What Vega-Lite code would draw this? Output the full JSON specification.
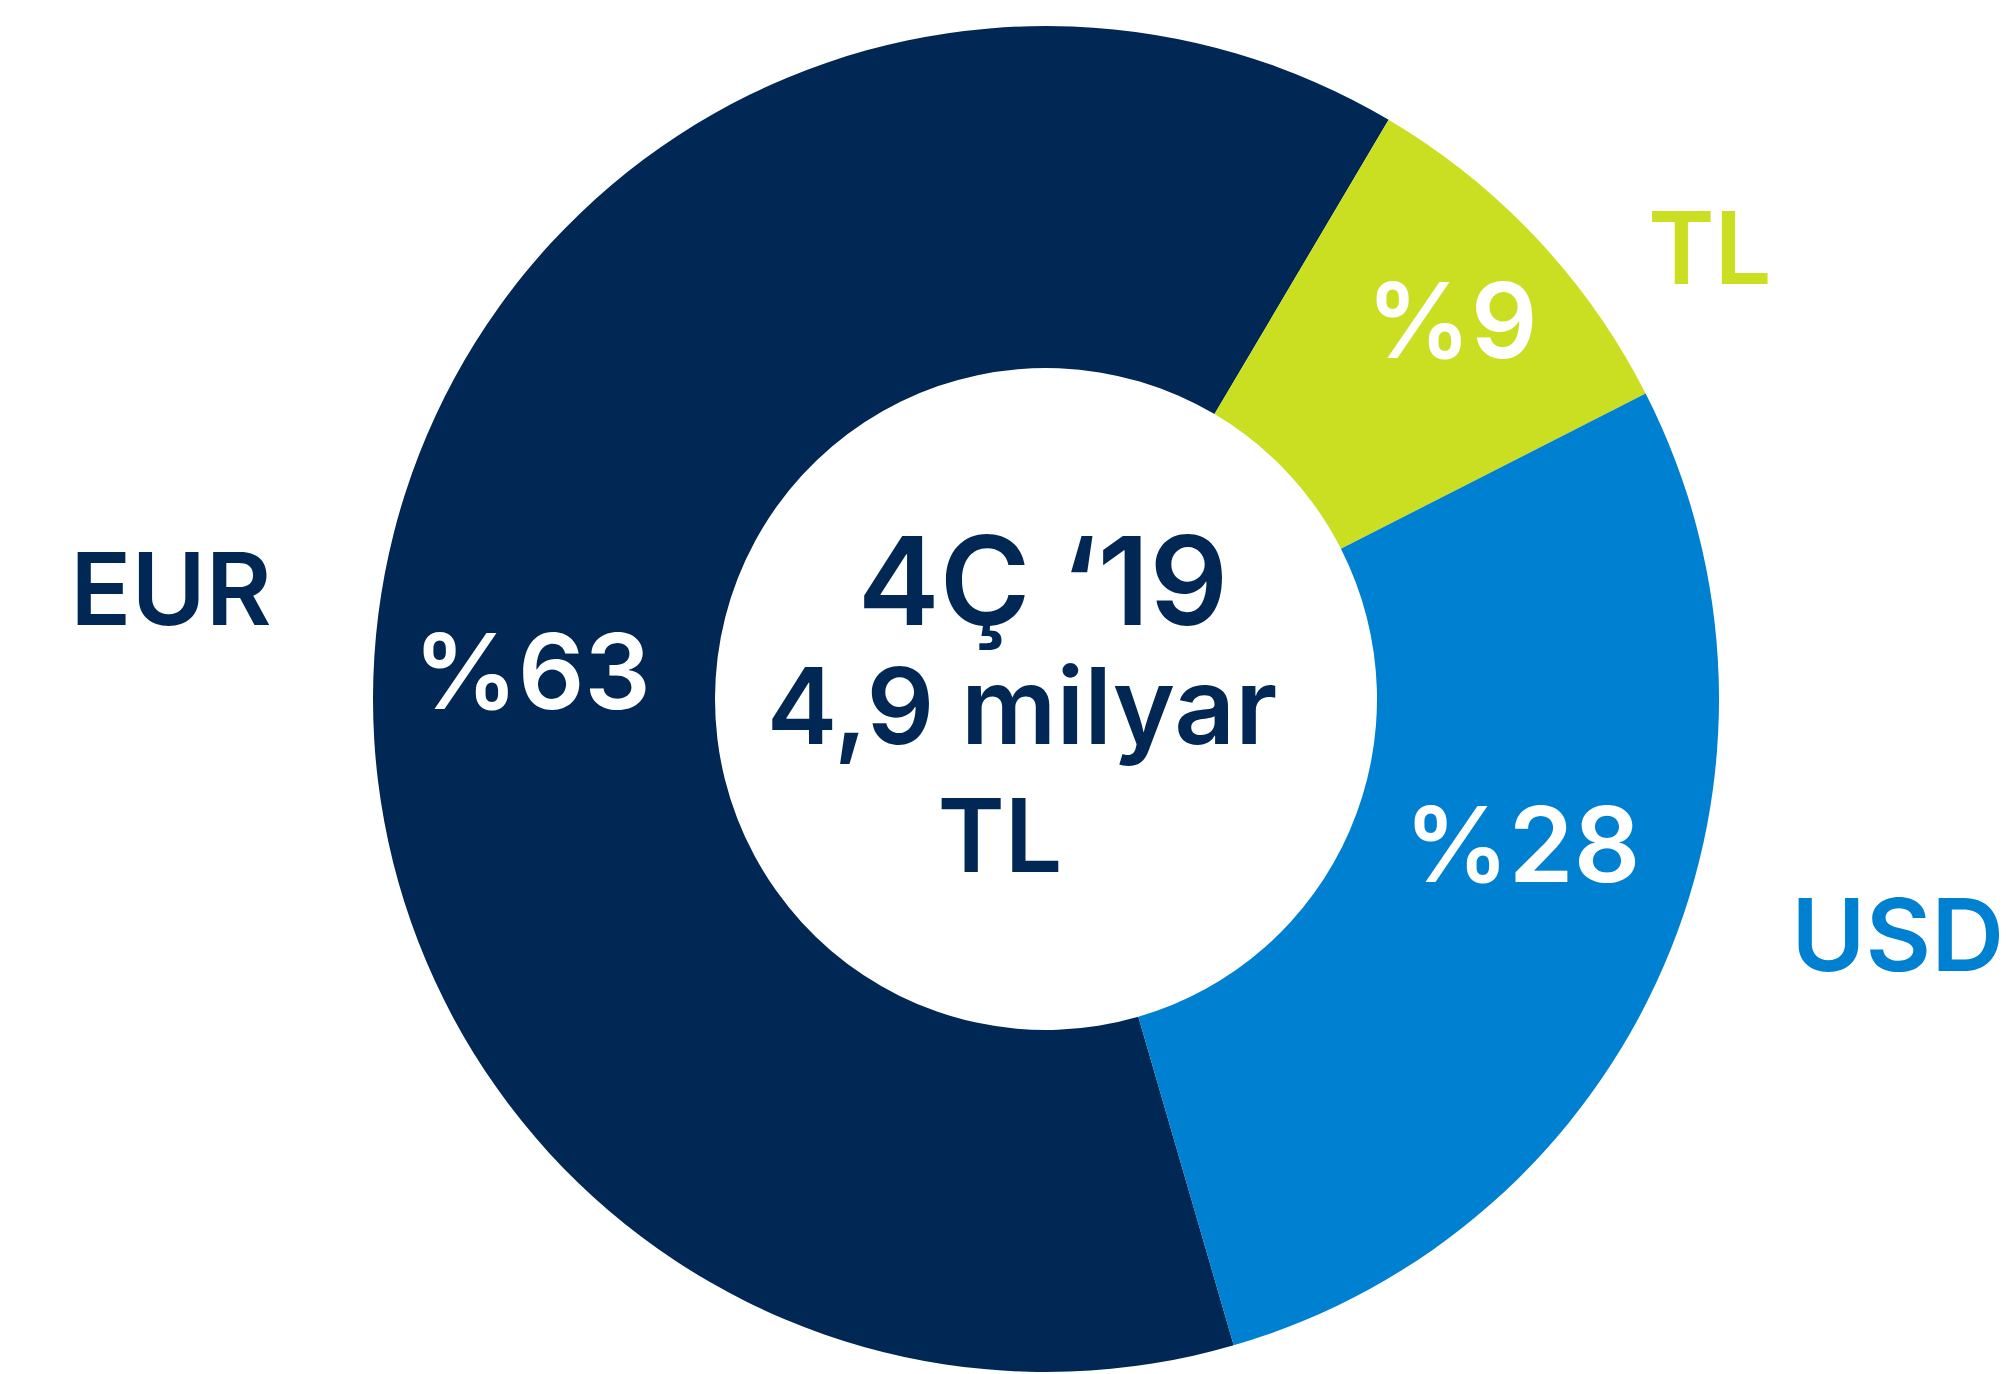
{
  "$schema": "https://vega.github.io/schema/vega-lite/v6.json",
  "width": 1924,
  "height": 1350,
  "autosize": {"type": "none"},
  "padding": {"left": 84, "top": 24, "right": 0, "bottom": 0},
  "background": "white",
  "config": {"view": {"stroke": null}, "text": {"font": "Inter", "fontWeight": 600, "baseline": "alphabetic", "align": "center"}},
  "datasets": {
    "pay": [
      {"para": "EUR", "oran": 63, "etiket": "%63"},
      {"para": "TL", "oran": 9, "etiket": "%9"},
      {"para": "USD", "oran": 28, "etiket": "%28"}
    ],
    "merkez": [
      {"satir": 1, "metin": "4Ç ‘19"},
      {"satir": 2, "metin": "4,9 milyar"},
      {"satir": 3, "metin": "TL"}
    ]
  },
  "layer": [
    {
      "data": {"name": "pay"},
      "mark": {"type": "arc", "outerRadius": 673, "innerRadius": 331, "strokeWidth": 0},
      "encoding": {
        "theta": {"field": "oran", "type": "quantitative", "stack": true, "scale": {"type": "linear", "domain": [0, 100], "range": [2.8589, 9.1421]}},
        "order": {"field": "para", "type": "ordinal", "sort": "ascending"},
        "color": {"field": "para", "type": "nominal", "legend": null, "scale": {"domain": ["EUR", "TL", "USD"], "range": ["#012854", "#CBDF22", "#0080D1"]}}
      }
    },
    {
      "data": {"name": "pay"},
      "mark": {"type": "text", "radius": 518, "dy": 75, "fontSize": 104, "color": "white"},
      "encoding": {
        "theta": {"field": "oran", "type": "quantitative", "stack": true, "scale": {"type": "linear", "domain": [0, 100], "range": [2.8589, 9.1421]}},
        "order": {"field": "para", "type": "ordinal", "sort": "ascending"},
        "detail": {"field": "para", "type": "nominal"},
        "text": {"condition": {"test": "datum.para === 'EUR'", "field": "etiket", "type": "nominal"}, "value": ""}
      }
    },
    {
      "data": {"name": "pay"},
      "mark": {"type": "text", "radius": 557, "dy": 40, "fontSize": 104, "color": "white"},
      "encoding": {
        "theta": {"field": "oran", "type": "quantitative", "stack": true, "scale": {"type": "linear", "domain": [0, 100], "range": [2.8589, 9.1421]}},
        "order": {"field": "para", "type": "ordinal", "sort": "ascending"},
        "detail": {"field": "para", "type": "nominal"},
        "text": {"condition": {"test": "datum.para === 'TL'", "field": "etiket", "type": "nominal"}, "value": ""}
      }
    },
    {
      "data": {"name": "pay"},
      "mark": {"type": "text", "radius": 519, "dy": -23, "fontSize": 104, "color": "white"},
      "encoding": {
        "theta": {"field": "oran", "type": "quantitative", "stack": true, "scale": {"type": "linear", "domain": [0, 100], "range": [2.8589, 9.1421]}},
        "order": {"field": "para", "type": "ordinal", "sort": "ascending"},
        "detail": {"field": "para", "type": "nominal"},
        "text": {"condition": {"test": "datum.para === 'USD'", "field": "etiket", "type": "nominal"}, "value": ""}
      }
    },
    {
      "data": {"name": "pay"},
      "mark": {"type": "text", "radius": 882, "dy": 37, "fontSize": 101, "color": "#012854"},
      "encoding": {
        "theta": {"field": "oran", "type": "quantitative", "stack": true, "scale": {"type": "linear", "domain": [0, 100], "range": [2.8589, 9.1421]}},
        "order": {"field": "para", "type": "ordinal", "sort": "ascending"},
        "detail": {"field": "para", "type": "nominal"},
        "text": {"condition": {"test": "datum.para === 'EUR'", "field": "para", "type": "nominal"}, "value": ""}
      }
    },
    {
      "data": {"name": "pay"},
      "mark": {"type": "text", "radius": 783, "dx": 93, "dy": 121, "fontSize": 101, "color": "#CBDF22"},
      "encoding": {
        "theta": {"field": "oran", "type": "quantitative", "stack": true, "scale": {"type": "linear", "domain": [0, 100], "range": [2.8589, 9.1421]}},
        "order": {"field": "para", "type": "ordinal", "sort": "ascending"},
        "detail": {"field": "para", "type": "nominal"},
        "text": {"condition": {"test": "datum.para === 'TL'", "field": "para", "type": "nominal"}, "value": ""}
      }
    },
    {
      "data": {"name": "pay"},
      "mark": {"type": "text", "radius": 928, "dy": -97, "fontSize": 101, "color": "#0080D1"},
      "encoding": {
        "theta": {"field": "oran", "type": "quantitative", "stack": true, "scale": {"type": "linear", "domain": [0, 100], "range": [2.8589, 9.1421]}},
        "order": {"field": "para", "type": "ordinal", "sort": "ascending"},
        "detail": {"field": "para", "type": "nominal"},
        "text": {"condition": {"test": "datum.para === 'USD'", "field": "para", "type": "nominal"}, "value": ""}
      }
    },
    {
      "data": {"name": "merkez"},
      "transform": [{"filter": "datum.satir === 1"}],
      "mark": {"type": "text", "dx": -3, "dy": -74, "fontSize": 123, "color": "#012854"},
      "encoding": {"text": {"field": "metin", "type": "nominal"}}
    },
    {
      "data": {"name": "merkez"},
      "transform": [{"filter": "datum.satir === 2"}],
      "mark": {"type": "text", "dx": -24, "dy": 45, "fontSize": 106, "color": "#012854"},
      "encoding": {"text": {"field": "metin", "type": "nominal"}}
    },
    {
      "data": {"name": "merkez"},
      "transform": [{"filter": "datum.satir === 3"}],
      "mark": {"type": "text", "dx": -46, "dy": 173, "fontSize": 102, "color": "#012854"},
      "encoding": {"text": {"field": "metin", "type": "nominal"}}
    }
  ]
}
